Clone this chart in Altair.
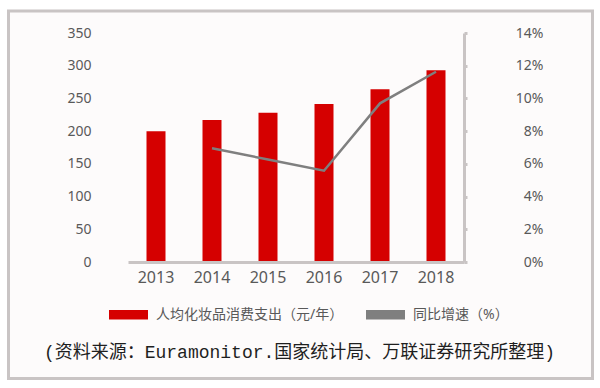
import altair as alt
import pandas as pd

years = ["2013", "2014", "2015", "2016", "2017", "2018"]
spend = [200, 217, 228, 241.5, 264, 293]
growth_years = ["2014", "2015", "2016", "2017", "2018"]
growth = [0.0695, 0.0627, 0.0558, 0.0970, 0.1163]
series_names = ["人均化妆品消费支出（元/年）", "同比增速（%）"]
source_text = "(资料来源：Euramonitor.国家统计局、万联证券研究所整理)"

bar_df = pd.DataFrame({"year": years, "value": spend, "series": series_names[0]})
line_df = pd.DataFrame({"year": growth_years, "rate": growth})

FONT = '"Noto Sans", "Noto Sans CJK SC"'
LABEL = "#595959"
AXIS_GRAY = "#c9c4c4"
RED = "#d50000"
GRAY = "#7f7f7f"

x_enc = alt.X(
    "year:N",
    sort=years,
    scale=alt.Scale(domain=years, paddingInner=0, paddingOuter=0),
    axis=alt.Axis(
        title=None, labelAngle=0, ticks=False, tickSize=0, labelFontSize=16,
        labelColor=LABEL, labelFont=FONT, labelPadding=7,
        domainColor=AXIS_GRAY, domainWidth=3, grid=False, zindex=1,
    ),
)

frame = alt.Chart(pd.DataFrame({"k": [0]})).mark_rect(
    fill="#fdfbfb", stroke=AXIS_GRAY, strokeWidth=3
).encode(
    x=alt.value(-119.5), x2=alt.value(464.5), y=alt.value(-22), y2=alt.value(345.5)
)

bars = alt.Chart(bar_df).mark_bar(size=19).encode(
    x=x_enc,
    y=alt.Y(
        "value:Q",
        scale=alt.Scale(domain=[0, 350], nice=False),
        axis=alt.Axis(
            title=None, values=[0, 50, 100, 150, 200, 250, 300, 350], domain=False,
            ticks=False, grid=False, labelFontSize=14, labelColor=LABEL,
            labelFont=FONT, labelPadding=37, zindex=1,
        ),
    ),
    color=alt.Color(
        "series:N",
        scale=alt.Scale(domain=series_names, range=[RED, GRAY]),
        legend=alt.Legend(
            title=None, orient="none", legendX=-19, legendY=262,
            direction="horizontal", symbolType="M-1,-0.24H1V0.24H-1Z",
            symbolSize=1521, symbolStrokeWidth=0, labelFontSize=14,
            labelColor=LABEL, labelFont=FONT, labelOffset=8, columnPadding=22,
            labelLimit=400, zindex=1,
        ),
    ),
)

line = alt.Chart(line_df).mark_line(color=GRAY, strokeWidth=2.5).encode(
    x=alt.X("year:N", sort=years),
    y=alt.Y(
        "rate:Q",
        scale=alt.Scale(domain=[0, 0.14], nice=False),
        axis=alt.Axis(
            title=None, orient="right", format=".0%",
            values=[0, 0.02, 0.04, 0.06, 0.08, 0.10, 0.12, 0.14],
            domainColor=AXIS_GRAY, domainWidth=3, tickColor=AXIS_GRAY,
            tickWidth=3, tickSize=3, grid=False, labelFontSize=14,
            labelColor=LABEL, labelFont=FONT, labelAlign="right", labelPadding=76,
            zindex=1,
        ),
    ),
)

source = alt.Chart(pd.DataFrame({"t": [source_text]})).mark_text(
    fontSize=18, color="#1f1f1f", font='"Liberation Mono", "Noto Sans CJK SC"',
    align="center", baseline="middle",
).encode(text="t:N", x=alt.value(171.5), y=alt.value(319.5))

chart = (
    alt.layer(frame, bars, line, source)
    .resolve_scale(y="independent")
    .properties(
        width=336, height=229,
        autosize=alt.AutoSizeParams(type="none"),
        padding={"left": 128, "top": 33, "right": 136, "bottom": 126},
        background="white",
    )
    .configure_view(stroke=None)
)

chart.save("out.html", embed_options={"renderer": "svg", "actions": False})
